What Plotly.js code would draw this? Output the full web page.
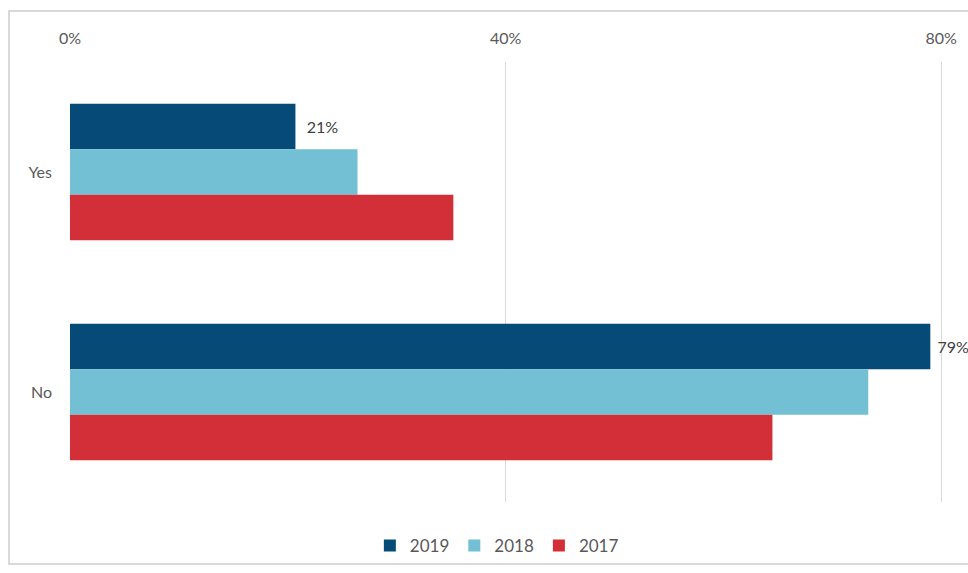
<!DOCTYPE html>
<html>
<head>
<meta charset="utf-8">
<script src="https://cdn.plot.ly/plotly-3.0.1.min.js"></script>
<style>
  html, body { margin: 0; padding: 0; background: #fff; overflow: hidden; }
  #wrap { position: relative; width: 968px; height: 573px; overflow: hidden; }
  #chart { position: absolute; left: 0; top: 0; width: 968px; height: 573px; }
  #frame { position: absolute; left: 8px; top: 10px; width: 1000px; height: 551px;
           border: 2px solid #d9d9d9; border-right: none; pointer-events: none; }
</style>
</head>
<body>
<div id="wrap">
  <div id="chart"></div>
  <div id="frame"></div>
</div>
<script>
const categories = ['Yes', 'No'];
const seriesNames = ['2019', '2018', '2017'];
const values2019 = [0.207, 0.79];
const values2018 = [0.264, 0.733];
const values2017 = [0.352, 0.645];
const labels2019 = ['  21%', ' 79%'];
const colors = ['#064a78', '#73bfd3', '#d22f38'];
const tickVals = [0, 0.4, 0.8];
const tickText = ['0%', '40%', '80%'];

const fontFam = 'Lato, "Open Sans", sans-serif';
const allValues = [values2019, values2018, values2017];

const traces = seriesNames.map((name, i) => {
  const t = {
    type: 'bar',
    orientation: 'h',
    name: name,
    y: categories,
    x: allValues[i],
    marker: { color: colors[i] },
    hoverinfo: 'none',
    cliponaxis: false
  };
  if (i === 0) {
    t.text = labels2019;
    t.textposition = 'outside';
    t.textfont = { family: fontFam, size: 16, color: '#404040' };
  } else {
    t.textposition = 'none';
  }
  return t;
});

const layout = {
  width: 968,
  height: 573,
  margin: { l: 70, r: 5, t: 62, b: 71 },
  paper_bgcolor: '#ffffff',
  plot_bgcolor: '#ffffff',
  font: { family: fontFam, size: 16, color: '#595959' },
  barmode: 'group',
  bargap: 0.38,
  bargroupgap: 0,
  showlegend: true,
  legend: {
    orientation: 'h',
    x: 0.478, xanchor: 'center',
    y: -0.1, yanchor: 'middle',
    font: { family: fontFam, size: 17, color: '#595959' },
    itemwidth: 30,
    traceorder: 'normal'
  },
  xaxis: {
    side: 'top',
    range: [0, 0.82],
    tickvals: tickVals,
    ticktext: tickText,
    showgrid: true,
    gridcolor: '#d9d9d9',
    gridwidth: 1,
    zeroline: false,
    showline: false,
    ticks: '',
    ticklabelstandoff: 14,
    fixedrange: true
  },
  yaxis: {
    type: 'category',
    autorange: 'reversed',
    showgrid: false,
    zeroline: false,
    showline: false,
    ticks: '',
    ticklabelstandoff: 17,
    fixedrange: true
  }
};

Plotly.newPlot('chart', traces, layout, { displayModeBar: false, staticPlot: true });
</script>
</body>
</html>
